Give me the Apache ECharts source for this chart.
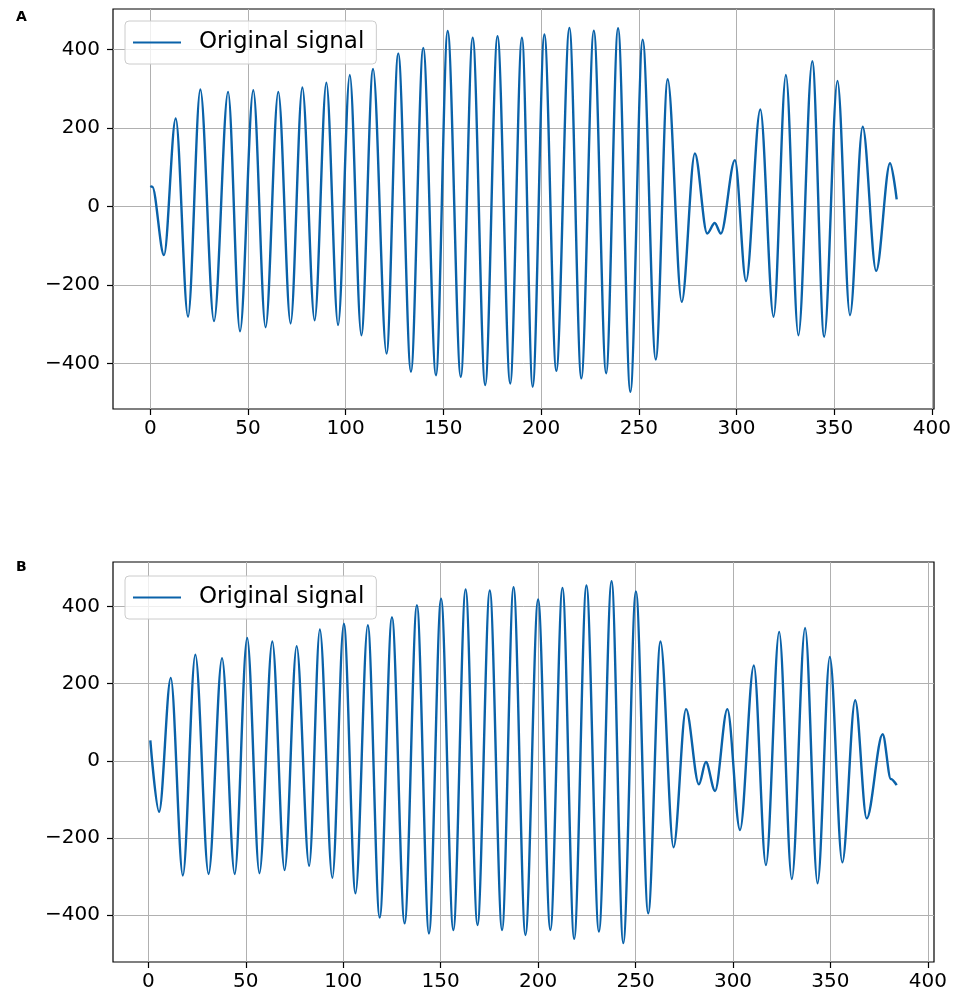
<!DOCTYPE html>
<html lang="en">

<head>
    <meta charset="UTF-8">
    <title>Original signal</title>
    <!-- ECharts -->
    <script src="https://cdn.jsdelivr.net/npm/echarts@6/dist/echarts.min.js"></script>
    <style>
        html, body { margin: 0; padding: 0; background: #fff; }
    </style>
</head>

<body>

    <div id="sigChart" style="width: 957px; height: 994px;"></div>

    <script>
        // peaks / troughs (sample index, value)
        var sigAx = [0, 1, 7, 13, 19.3, 25.6, 32.6, 39.8, 45.9, 52.7, 59, 65.5, 71.8, 77.8, 84.1,
            90.1, 96.1, 102.1, 108, 114, 120.9, 126.9, 133.4, 139.7, 146.2, 152.2, 158.9, 165, 171.4,
            177.7, 184.2, 190.2, 195.7, 201.7, 207.8, 214.5, 220.6, 227, 233.3, 239.4, 245.7, 252,
            258.7, 264.8, 272, 278.7, 285, 288.9, 292, 299.2, 304.9, 312.2, 319, 325.3, 331.7, 338.8,
            344.9, 351.7, 358.1, 364.6, 371.5, 378.6, 382];
        var sigAy = [52, 50, -124, 224, -281, 298, -292, 292, -318, 296, -308, 292, -298, 303, -290,
            315, -302, 335, -328, 350, -375, 390, -421, 404, -430, 447, -434, 430, -455,
            434, -451, 430, -459, 438, -419, 455, -438, 448, -425, 454, -472, 425,
            -390, 324, -243, 135, -69, -42, -69, 118, -190, 247, -281, 335, -328, 370,
            -332, 320, -277, 203, -164, 110, 18];

        var sigBx = [1, 5.5, 11.5, 17.7, 24.1, 30.9, 37.8, 44.3, 50.7, 57, 63.6, 69.9, 76.1, 82.5,
            88, 94.4, 100.3, 106.3, 112.6, 118.7, 125, 131.5, 137.8, 144, 150.2, 156.5, 162.8, 168.9,
            175.2, 181.5, 187.4, 193.5, 200, 206.3, 212.5, 218.5, 224.8, 231.2, 237.7, 243.7, 250.2,
            256.5, 262.8, 269.5, 275.9, 282.5, 286.1, 290.8, 297.1, 303.6, 310.7, 316.9, 323.7, 330.2,
            337, 343.4, 349.7, 356.1, 362.7, 368.6, 376.8, 381, 384];
        var sigBy = [53, -132, 215, -297, 275, -293, 266, -293, 318, -291, 309, -283, 297, -272,
            340, -303, 355, -343, 351, -406, 372, -421, 403, -447, 420, -438, 444, -425,
            441, -438, 450, -451, 418, -438, 448, -461, 454, -442, 465, -472, 439,
            -395, 309, -224, 134, -61, -3, -78, 134, -179, 247, -270, 334, -306,
            344, -317, 269, -263, 157, -149, 69, -47, -63];

        var xTicks = [0, 50, 100, 150, 200, 250, 300, 350, 400];
        var yTicks = [-400, -200, 0, 200, 400];
        var seriesName = "Original signal";

        var lineColor = "#0a62a9";
        var font = "DejaVu Sans";

        var myChart = echarts.init(document.getElementById("sigChart"), null, { renderer: "canvas" });

        function toPairs(xs, ys) {
            return xs.map(function (x, i) { return [x, ys[i]]; });
        }

        // matplotlib style minus sign
        function fmt(v) {
            return v < 0 ? "\u2212" + Math.abs(v) : String(v);
        }

        function xAxisFor(idx, min, max) {
            return {
                type: "value",
                gridIndex: idx,
                min: min,
                max: max,
                axisLine: { show: false, onZero: false },
                axisTick: { show: true, length: 6, customValues: xTicks, lineStyle: { color: "#000", width: 1.2 } },
                axisLabel: { customValues: xTicks, margin: 10, fontFamily: font, fontSize: 20, color: "#000", formatter: fmt },
                splitLine: { show: true, lineStyle: { color: "#b0b0b0", width: 1 } }
            };
        }

        function yAxisFor(idx, min, max) {
            return {
                type: "value",
                gridIndex: idx,
                min: min,
                max: max,
                axisLine: { show: false, onZero: false },
                axisTick: { show: true, length: 6, customValues: yTicks, lineStyle: { color: "#000", width: 1.2 } },
                axisLabel: { customValues: yTicks, margin: 13, fontFamily: font, fontSize: 20, color: "#000", formatter: fmt },
                splitLine: { show: true, lineStyle: { color: "#b0b0b0", width: 1 } }
            };
        }

        function legendAt(top) {
            return {
                data: [seriesName],
                left: 125,
                top: top,
                selectedMode: false,
                icon: "rect",
                itemWidth: 48,
                itemHeight: 2,
                padding: [10, 12, 10, 8],
                backgroundColor: "rgba(255,255,255,0.8)",
                borderColor: "#cccccc",
                borderWidth: 1,
                borderRadius: 4,
                itemStyle: { color: lineColor },
                textStyle: { fontFamily: font, fontSize: 23, color: "#000", padding: [0, 0, 0, 13] }
            };
        }

        function seriesFor(idx, data) {
            return {
                name: seriesName,
                type: "line",
                xAxisIndex: idx,
                yAxisIndex: idx,
                data: data,
                symbol: "none",
                smooth: 0.33,
                smoothMonotone: "x",
                lineStyle: { color: lineColor, width: 2.4 },
                itemStyle: { color: lineColor },
                z: 3
            };
        }

        var option = {
            animation: false,
            backgroundColor: "#fff",
            grid: [
                { left: 113, right: 23, top: 9, height: 400, show: true, borderColor: "#000", borderWidth: 1.2 },
                { left: 113, right: 23, top: 562, height: 400, show: true, borderColor: "#000", borderWidth: 1.2 }
            ],
            xAxis: [xAxisFor(0, -19.1, 401.1), xAxisFor(1, -18.15, 403.15)],
            yAxis: [yAxisFor(0, -516, 503), yAxisFor(1, -521, 515)],
            legend: [legendAt(21), legendAt(576)],
            graphic: [
                { type: "text", left: 16, top: 10, style: { text: "A", font: "bold 14px DejaVu Sans", fill: "#000" } },
                { type: "text", left: 16, top: 560, style: { text: "B", font: "bold 14px DejaVu Sans", fill: "#000" } }
            ],
            series: [
                seriesFor(0, toPairs(sigAx, sigAy)),
                seriesFor(1, toPairs(sigBx, sigBy))
            ]
        };

        myChart.setOption(option);
    </script>
</body>

</html>
